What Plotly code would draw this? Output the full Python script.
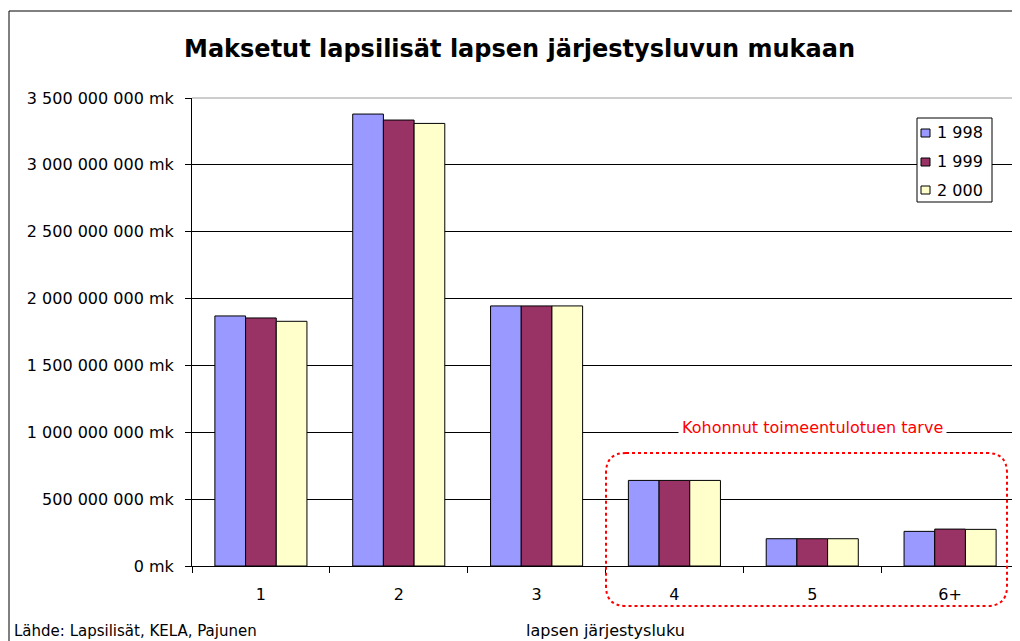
import plotly.graph_objects as go

# ---------------- data ----------------
categories = ["1", "2", "3", "4", "5", "6+"]
series_names = ["1 998", "1 999", "2 000"]
values_1998 = [1.870e9, 3.380e9, 1.945e9, 0.640e9, 0.204e9, 0.259e9]
values_1999 = [1.855e9, 3.335e9, 1.945e9, 0.640e9, 0.204e9, 0.276e9]
values_2000 = [1.830e9, 3.310e9, 1.945e9, 0.640e9, 0.204e9, 0.274e9]
series_values = [values_1998, values_1999, values_2000]
series_colors = ["#9999FF", "#993366", "#FFFFCC"]
y_tickvals = [0, 5e8, 1e9, 1.5e9, 2e9, 2.5e9, 3e9, 3.5e9]
y_ticktext = [f"{v:,.0f}".replace(",", " ") + " mk" for v in y_tickvals]

title_text = "Maksetut lapsilisät lapsen järjestysluvun mukaan"
x_title = "lapsen järjestysluku"
source_text = "Lähde: Lapsilisät, KELA, Pajunen"
callout_text = "Kohonnut toimeentulotuen tarve"

# ---------------- layout geometry (pixels) ----------------
OFF = 8                      # page body margin
W, H = 1020 - OFF, 641 - OFF
PLOT_L, PLOT_R, PLOT_T, PLOT_B = 192, 1019, 98, 566   # in window pixels
ML = PLOT_L - OFF
MT = PLOT_T - OFF
MR = W - (PLOT_R - OFF)
MB = H - (PLOT_B - OFF)
PW = PLOT_R - PLOT_L
PH = PLOT_B - PLOT_T
FONT = "DejaVu Sans"


def px_x(p):
    return (p - PLOT_L) / PW


def px_y(p):
    return (PLOT_B - p) / PH


fig = go.Figure()
for name, vals, col in zip(series_names, series_values, series_colors):
    fig.add_trace(go.Bar(
        x=categories, y=vals, name=name,
        marker=dict(color=col, line=dict(color="black", width=1)),
        showlegend=False,
    ))

shapes = []
# outer chart frame
shapes.append(dict(type="rect", xref="paper", yref="paper",
                   x0=px_x(9), x1=px_x(1060), y0=px_y(700), y1=px_y(11),
                   line=dict(color="black", width=1), fillcolor="rgba(0,0,0,0)",
                   layer="below"))
# plot-area top/right border (grey)
shapes.append(dict(type="path", xref="paper", yref="paper",
                   path="M 0,1 L 1,1 L 1,0",
                   line=dict(color="#9a9a9a", width=1), layer="above"))

# rounded dotted red rectangle
x0, x1, y0, y1 = px_x(606), px_x(1007), px_y(606), px_y(453)
rx, ry = 20 / PW, 20 / PH
path = (f"M {x0+rx},{y1} L {x1-rx},{y1} Q {x1},{y1} {x1},{y1-ry} "
        f"L {x1},{y0+ry} Q {x1},{y0} {x1-rx},{y0} "
        f"L {x0+rx},{y0} Q {x0},{y0} {x0},{y0+ry} "
        f"L {x0},{y1-ry} Q {x0},{y1} {x0+rx},{y1} Z")
shapes.append(dict(type="path", xref="paper", yref="paper", path=path,
                   line=dict(color="#FF0000", width=2, dash="dot"), layer="above"))

# manual legend box
shapes.append(dict(type="rect", xref="paper", yref="paper",
                   x0=px_x(917), x1=px_x(992), y0=px_y(202), y1=px_y(118),
                   line=dict(color="black", width=1), fillcolor="white", layer="above"))
annotations = []
item_y = [133, 162, 190]
for name, col, yc in zip(series_names, series_colors, item_y):
    shapes.append(dict(type="rect", xref="paper", yref="paper",
                       x0=px_x(921), x1=px_x(930), y0=px_y(yc + 4), y1=px_y(yc - 4),
                       line=dict(color="black", width=1), fillcolor=col, layer="above"))
    annotations.append(dict(text=name, xref="paper", yref="paper",
                            x=px_x(935), y=px_y(yc), xanchor="left", yanchor="middle",
                            showarrow=False, font=dict(family=FONT, size=16, color="black")))

annotations.append(dict(text=callout_text, xref="paper", yref="paper",
                        x=px_x(812), y=px_y(428), xanchor="center", yanchor="middle",
                        showarrow=False, bgcolor="white", borderpad=3,
                        font=dict(family=FONT, size=16, color="#FF0000")))
annotations.append(dict(text=source_text, xref="paper", yref="paper",
                        x=px_x(12), y=px_y(631), xanchor="left", yanchor="middle",
                        showarrow=False, font=dict(family=FONT, size=15, color="black")))

fig.update_layout(
    width=W, height=H,
    margin=dict(l=ML, r=MR, t=MT, b=MB, pad=0),
    paper_bgcolor="white", plot_bgcolor="white",
    separators=", ",
    barmode="group", bargap=0.332, bargroupgap=0,
    title=dict(text=title_text, x=(519.5 - OFF) / W, y=1 - (49 - OFF) / H,
               xref="container", yref="container", xanchor="center", yanchor="middle",
               font=dict(family=FONT, size=24, color="black", weight="bold")),
    font=dict(family=FONT, size=16, color="black"),
    shapes=shapes,
    annotations=annotations,
)
fig.update_xaxes(
    range=[-0.5, 5.5], showline=True, linecolor="black", linewidth=1,
    ticks="outside", ticklen=6, tickcolor="black", tickson="boundaries",
    ticklabelstandoff=14, showgrid=False,
    tickfont=dict(family=FONT, size=16, color="black"),
    title=dict(text=x_title, font=dict(family=FONT, size=16, color="black"), standoff=21),
)
fig.update_yaxes(
    range=[0, 3.5e9], tickvals=y_tickvals, ticktext=y_ticktext,
    showline=True, linecolor="black", linewidth=1,
    ticks="outside", ticklen=6, tickcolor="black",
    showgrid=True, gridcolor="black", gridwidth=1, zeroline=False,
    ticklabelstandoff=8,
    tickfont=dict(family=FONT, size=16, color="black"),
)

fig.write_html("out.html")
